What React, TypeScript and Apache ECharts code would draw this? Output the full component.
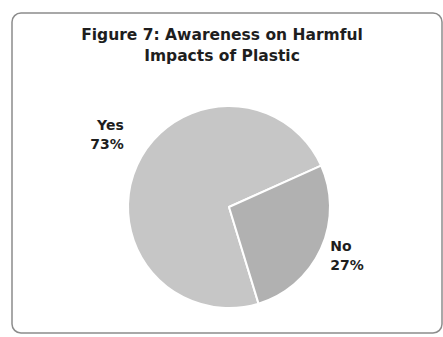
import React, { useEffect, useRef } from "react";
import * as echarts from "echarts";

const categories = ["Yes", "No"];
const shares = [73, 27];
const sliceColors = ["#c6c6c6", "#b1b1b1"];
const titleText = "Figure 7: Awareness on Harmful\nImpacts of Plastic";

export default function App() {
  const ref = useRef<HTMLDivElement>(null);

  useEffect(() => {
    if (!ref.current) return;
    const chart = echarts.init(ref.current, null, { renderer: "svg" });
    const font = "'DejaVu Sans', sans-serif";
    chart.setOption({
      animation: false,
      backgroundColor: "#ffffff",
      title: {
        text: titleText,
        left: 217,
        top: 19,
        textAlign: "center",
        textStyle: {
          fontFamily: font,
          fontWeight: "bold",
          fontSize: 15.5,
          lineHeight: 21,
          color: "#1e1e1e",
        },
      },
      graphic: [
        {
          type: "rect",
          shape: { x: 12, y: 13, width: 430, height: 320, r: 9 },
          style: { fill: "none", stroke: "#8c8c8c", lineWidth: 1.5 },
          silent: true,
        },
      ],
      series: [
        {
          type: "pie",
          center: [229, 207],
          radius: 101,
          startAngle: 287,
          clockwise: true,
          data: categories.map((name, i) => ({
            name,
            value: shares[i],
            itemStyle: { color: sliceColors[i] },
          })),
          itemStyle: { borderColor: "#ffffff", borderWidth: 2 },
          label: {
            show: true,
            position: "outside",
            formatter: "{b}\n{c}%",
            fontFamily: font,
            fontWeight: "bold",
            fontSize: 14,
            lineHeight: 19,
            color: "#1e1e1e",
            align: "center",
          },
          labelLine: { show: false, length: 18, length2: 0 },
          labelLayout: (p: any) => {
            const r = p.labelRect;
            const cx = r.x + r.width / 2;
            const cy = r.y + r.height / 2;
            const target = p.dataIndex === 0 ? [107, 134] : [347, 255];
            return { dx: target[0] - cx, dy: target[1] - cy };
          },
        },
      ],
    });
    return () => chart.dispose();
  }, []);

  return (
    <div
      ref={ref}
      style={{ position: "absolute", left: 0, top: 0, width: 443, height: 337 }}
    />
  );
}
